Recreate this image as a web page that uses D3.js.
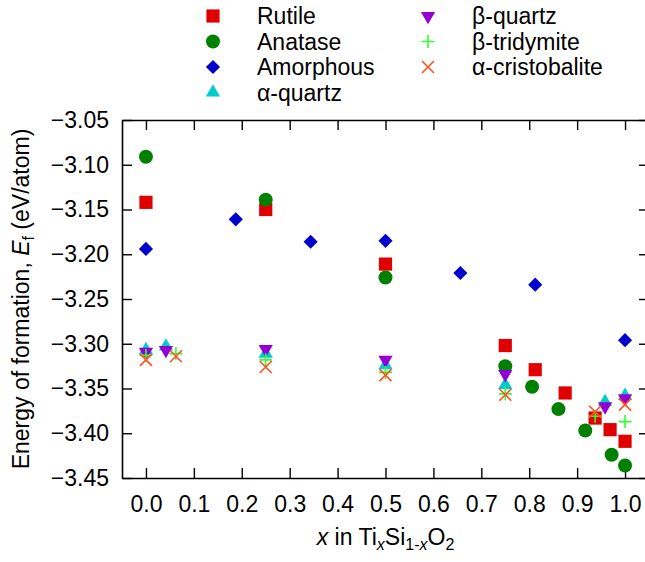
<!DOCTYPE html>
<head>
  <meta charset="utf-8">
  <style>
    body { margin: 0; background: #fff; }
    text { font-family: "Liberation Sans", Arial, sans-serif; }
  </style>
  <title>Energy of formation of TixSi1-xO2</title>
</head>
<body>
  <script src="https://cdn.jsdelivr.net/npm/d3@7/dist/d3.min.js"></script>
  <script>
    // data: [x, Ef]
    var rutile = [[0, -3.142], [0.25, -3.150], [0.5, -3.211], [0.75, -3.302], [0.8125, -3.329],
                  [0.875, -3.355], [0.9375, -3.383], [0.96875, -3.396], [1.0, -3.409]];
    var anatase = [[0, -3.091], [0.25, -3.139], [0.5, -3.226], [0.75, -3.325], [0.806, -3.348],
                   [0.861, -3.373], [0.917, -3.397], [0.972, -3.424], [1.0, -3.436]];
    var amorphous = [[0, -3.194], [0.1875, -3.161], [0.34375, -3.186], [0.5, -3.185],
                     [0.65625, -3.221], [0.8125, -3.234], [1.0, -3.296]];
    var alphaQuartz = [[0, -3.307], [0.0417, -3.303], [0.25, -3.311], [0.5, -3.324],
                       [0.75, -3.346], [0.9583, -3.365], [1.0, -3.358]];
    var betaQuartz = [[0, -3.309], [0.0417, -3.307], [0.25, -3.306], [0.5, -3.318],
                      [0.75, -3.334], [0.9583, -3.370], [1.0, -3.361]];
    var betaTridymite = [[0, -3.313], [0.0625, -3.311], [0.25, -3.318], [0.5, -3.332],
                         [0.75, -3.356], [0.9375, -3.381], [1.0, -3.387]];
    var alphaCristobalite = [[0, -3.318], [0.0625, -3.314], [0.25, -3.326], [0.5, -3.335],
                             [0.75, -3.357], [0.9375, -3.376], [1.0, -3.368]];

    var xTicks = [0, 0.1, 0.2, 0.3, 0.4, 0.5, 0.6, 0.7, 0.8, 0.9, 1.0];
    var yTicks = [-3.45, -3.40, -3.35, -3.30, -3.25, -3.20, -3.15, -3.10, -3.05];

    var series = [
      { name: "Rutile", data: rutile, shape: "square", color: "#e00000" },
      { name: "Anatase", data: anatase, shape: "circle", color: "#008000" },
      { name: "Amorphous", data: amorphous, shape: "diamond", color: "#0000cc" },
      { name: "\u03b1-quartz", data: alphaQuartz, shape: "up", color: "#00cccc" },
      { name: "\u03b2-quartz", data: betaQuartz, shape: "down", color: "#9400d3" },
      { name: "\u03b2-tridymite", data: betaTridymite, shape: "plus", color: "#33ff33" },
      { name: "\u03b1-cristobalite", data: alphaCristobalite, shape: "cross", color: "#ff5020" }
    ];

    var width = 645;
    var height = 562;
    var fontSize = "23px";
    var subSize = "16px";
    var plotLeft = 122, plotRight = 649, plotTop = 120, plotBottom = 478;

    var x = d3.scaleLinear().domain([-0.05, 1.05]).range([plotLeft, plotRight]);
    var y = d3.scaleLinear().domain([-3.45, -3.05]).range([plotBottom, plotTop]);

    var svg = d3.select("body").append("svg")
      .attr("width", width)
      .attr("height", height);

    // draw one marker at (0,0) inside g
    function marker(g, shape, color) {
      if (shape == "square") {
        g.append("path").attr("d", d3.symbol(d3.symbolSquare, 174)()).attr("fill", color);
      } else if (shape == "circle") {
        g.append("circle").attr("r", 7).attr("fill", color);
      } else if (shape == "diamond") {
        g.append("path").attr("d", d3.symbol(d3.symbolSquare, 100)())
          .attr("transform", "rotate(45)").attr("fill", color);
      } else if (shape == "up") {
        g.append("path").attr("d", d3.symbol(d3.symbolTriangle, 88)()).attr("fill", color);
      } else if (shape == "down") {
        g.append("path").attr("d", d3.symbol(d3.symbolTriangle, 88)())
          .attr("transform", "rotate(180)").attr("fill", color);
      } else if (shape == "plus") {
        g.append("path").attr("d", "M-6.5,0H6.5M0,-6.5V6.5")
          .attr("stroke", color).attr("stroke-width", 1.6).attr("fill", "none");
      } else if (shape == "cross") {
        g.append("path").attr("d", "M-6,-6L6,6M-6,6L6,-6")
          .attr("stroke", color).attr("stroke-width", 1.6).attr("fill", "none");
      }
    }

    // axes with inward ticks, mirrored on top and right
    var xAxis = d3.axisBottom(x).tickValues(xTicks).tickFormat(d3.format(".1f"))
      .tickSizeInner(-10).tickSizeOuter(0).tickPadding(18);
    var yAxis = d3.axisLeft(y).tickValues(yTicks).tickFormat(d3.format(".2f"))
      .tickSizeInner(-10).tickSizeOuter(0).tickPadding(13);

    svg.append("g").attr("transform", "translate(0," + plotBottom + ")").call(xAxis);
    svg.append("g").attr("transform", "translate(" + plotLeft + ",0)").call(yAxis);
    svg.append("g").attr("transform", "translate(0," + plotTop + ")")
      .call(d3.axisTop(x).tickValues(xTicks).tickFormat("").tickSizeInner(-10).tickSizeOuter(0));
    svg.append("g").attr("transform", "translate(" + plotRight + ",0)")
      .call(d3.axisRight(y).tickValues(yTicks).tickFormat("").tickSizeInner(-10).tickSizeOuter(0));

    svg.selectAll(".domain").attr("stroke", "#000").attr("stroke-width", 1.6);
    svg.selectAll(".tick line").attr("stroke", "#000").attr("stroke-width", 1.4);
    svg.selectAll(".tick text").attr("font-size", fontSize).attr("fill", "#000")
      .attr("font-family", "Liberation Sans, Arial, sans-serif");

    // points
    series.forEach(function(s) {
      s.data.forEach(function(d) {
        var g = svg.append("g").attr("transform", "translate(" + x(d[0]) + "," + y(d[1]) + ")");
        marker(g, s.shape, s.color);
      });
    });

    // legend
    series.forEach(function(s, i) {
      var col = i < 4 ? 0 : 1;
      var row = i < 4 ? i : i - 4;
      var sx = col == 0 ? 213 : 428;
      var cy = 16 + row * 25.5;
      var g = svg.append("g").attr("transform", "translate(" + sx + "," + cy + ")");
      marker(g, s.shape, s.color);
      svg.append("text")
        .attr("x", sx + 44)
        .attr("y", cy + 8)
        .attr("font-size", fontSize)
        .text(s.name);
    });

    // x label
    var xl = svg.append("text")
      .attr("x", (plotLeft + plotRight) / 2)
      .attr("y", 545)
      .attr("text-anchor", "middle")
      .attr("font-size", fontSize);
    xl.append("tspan").attr("font-style", "italic").text("x");
    xl.append("tspan").text(" in Ti");
    xl.append("tspan").attr("font-style", "italic").attr("font-size", subSize).attr("dy", 5).text("x");
    xl.append("tspan").attr("dy", -5).text("Si");
    xl.append("tspan").attr("font-size", subSize).attr("dy", 5).text("1-");
    xl.append("tspan").attr("font-size", subSize).attr("font-style", "italic").text("x");
    xl.append("tspan").attr("dy", -5).text("O");
    xl.append("tspan").attr("font-size", subSize).attr("dy", 5).text("2");

    // y label
    var yl = svg.append("text")
      .attr("transform", "translate(29," + (plotTop + plotBottom) / 2 + ") rotate(-90)")
      .attr("text-anchor", "middle")
      .attr("font-size", fontSize);
    yl.append("tspan").text("Energy of formation, ");
    yl.append("tspan").attr("font-style", "italic").text("E");
    yl.append("tspan").attr("font-size", subSize).attr("dy", 5).text("f");
    yl.append("tspan").attr("dy", -5).text(" (eV/atom)");
  </script>
</body>
